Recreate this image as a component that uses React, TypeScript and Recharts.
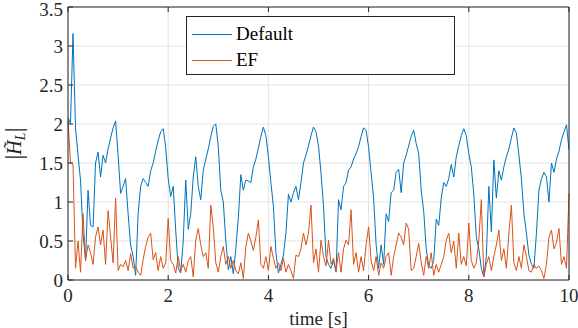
import React from 'react';
import { LineChart, Line, XAxis, YAxis, CartesianGrid, Legend } from 'recharts';

// sampling step of the time axis [s]
const TIME_STEP = 0.05;

// |H_L| for the default controller, one row per second
const defaultValues = [
  2.08, 2.01, 3.16, 1.95, 1.6, 1.28, 0.6, 0.25, 1.15, 0.7, 0.68, 1.5, 1.64, 1.32, 1.6, 1.5, 1.68, 1.82, 1.95, 2.04,
  1.6, 1.11, 1.2, 1.3, 0.85, 0.45, 0.3, 0.06, 0.85, 1.2, 1.3, 1.25, 1.2, 1.4, 1.5, 1.65, 1.79, 1.9, 1.94, 1.7,
  1.3, 1.07, 1.2, 0.64, 0.15, 0.09, 0.5, 1.28, 0.65, 0.85, 1.32, 1.58, 1.2, 1.03, 1.41, 1.55, 1.68, 1.84, 1.97, 2.0,
  1.71, 1.15, 1.0, 0.5, 0.13, 0.3, 0.08, 0.4, 0.8, 1.35, 1.15, 1.28, 1.27, 1.25, 1.45, 1.55, 1.69, 1.84, 1.96, 1.85,
  1.58, 1.25, 0.94, 0.35, 0.09, 0.2, 0.32, 0.6, 1.1, 1.0, 1.12, 1.2, 1.03, 1.25, 1.5, 1.6, 1.72, 1.85, 1.96, 1.9,
  1.72, 1.37, 0.95, 0.3, 0.2, 0.15, 0.25, 0.1, 1.03, 0.9, 1.2, 1.25, 1.41, 1.45, 1.55, 1.62, 1.71, 1.84, 1.95, 1.92,
  1.7, 1.37, 1.05, 0.45, 0.15, 0.45, 0.2, 0.85, 0.75, 1.12, 1.15, 1.38, 1.42, 1.12, 1.5, 1.6, 1.72, 1.84, 1.92, 1.75,
  1.62, 1.15, 0.88, 0.4, 0.18, 0.15, 0.25, 0.78, 0.7, 1.05, 1.25, 1.2, 1.3, 1.48, 1.32, 1.58, 1.72, 1.85, 1.94, 1.85,
  1.62, 1.45, 1.1, 0.55, 0.4, 0.15, 0.04, 0.3, 1.2, 0.62, 1.54, 1.05, 1.4, 1.28, 1.45, 1.58, 1.68, 1.82, 1.95, 1.88,
  1.6, 1.3, 0.85, 0.6, 0.32, 0.2, 0.15, 0.6, 1.15, 1.3, 1.38, 1.32, 1.0, 1.5, 1.38, 1.55, 1.65, 1.8, 1.9, 1.99,
  1.67,
];

// |H_L| with EF, same sampling
const efValues = [
  2.05, 1.5, 1.48, 0.15, 0.5, 0.1, 0.85, 0.25, 0.45, 0.35, 0.2, 0.55, 0.68, 0.45, 0.64, 0.2, 0.89, 0.55, 0.22, 1.05,
  0.12, 0.2, 0.17, 0.25, 0.12, 0.34, 0.15, 0.18, 0.1, 0.06, 0.26, 0.43, 0.55, 0.6, 0.26, 0.35, 0.12, 0.3, 0.15, 0.22,
  0.79, 0.25, 0.2, 0.09, 0.3, 0.12, 0.2, 0.1, 0.25, 0.3, 0.04, 0.51, 0.66, 0.45, 0.3, 0.35, 0.15, 0.96, 0.68, 0.22,
  0.1, 0.3, 0.43, 0.2, 0.3, 0.15, 0.25, 0.12, 0.08, 0.22, 0.02, 0.43, 0.6, 0.5, 0.38, 0.55, 0.77, 0.2, 0.15, 0.3,
  0.12, 0.43, 0.28, 0.15, 0.22, 0.12, 0.28, 0.1, 0.2, 0.12, 0.02, 0.32, 0.3, 0.4, 0.6, 0.45, 0.6, 0.96, 0.22, 0.4,
  0.1, 0.51, 0.3, 0.18, 0.51, 0.2, 0.28, 0.12, 0.35, 0.1, 0.4, 0.51, 0.45, 0.9, 0.2, 0.35, 0.1, 0.3, 0.12, 0.45,
  0.68, 0.25, 0.12, 0.3, 0.06, 0.22, 0.15, 0.3, 0.35, 0.06, 0.3, 0.45, 0.6, 0.55, 0.45, 0.73, 0.65, 0.12, 0.15, 0.3,
  0.47, 0.22, 0.06, 0.3, 0.15, 0.35, 0.06, 0.2, 0.1, 0.2, 0.3, 0.51, 0.6, 0.35, 0.5, 0.15, 0.6, 0.2, 0.3, 0.18,
  0.73, 0.25, 0.15, 0.22, 0.51, 1.03, 0.04, 0.2, 0.3, 0.12, 0.3, 0.45, 0.64, 0.25, 0.4, 0.15, 0.6, 0.96, 0.22, 0.12,
  0.3, 0.15, 0.45, 0.3, 0.12, 0.1, 0.2, 0.15, 0.18, 0.12, 0.02, 0.2, 0.55, 0.64, 0.4, 0.48, 0.66, 0.2, 0.3, 0.15,
  1.11,
];

const xTicks = [0, 2, 4, 6, 8, 10];
const yTicks = [0, 0.5, 1, 1.5, 2, 2.5, 3, 3.5];

const FONT = '"Liberation Serif", "DejaVu Serif", serif';
const AXIS_COLOR = '#262626';

const data = defaultValues.map((v, i) => ({
  t: Math.round(i * TIME_STEP * 100) / 100,
  Default: v,
  EF: efValues[i],
}));

const renderYLabel = () => (
  <text
    transform="translate(21,143.5) rotate(-90)"
    textAnchor="middle"
    fontFamily={FONT}
    fontSize={20}
    fill={AXIS_COLOR}
  >
    <tspan fontSize={26} dy={1}>|</tspan>
    <tspan fontStyle="italic" dy={-1}>H̃</tspan>
    <tspan fontStyle="italic" fontSize={14} dy={4}>L</tspan>
    <tspan fontSize={26} dy={-3}>|</tspan>
  </text>
);

// serif tick labels (tick objects don't reliably pass the font through)
const XTick = (props: any) => (
  <text x={props.x} y={props.y} dy="0.71em" textAnchor="middle" fontFamily={FONT} fontSize={19} fill={AXIS_COLOR}>
    {props.payload.value}
  </text>
);

const YTick = (props: any) => (
  <text x={props.x} y={props.y} dy="0.355em" textAnchor="end" fontFamily={FONT} fontSize={19} fill={AXIS_COLOR}>
    {props.payload.value}
  </text>
);

const renderLegend = (props: any) => {
  const { payload = [] } = props;
  return (
    <div style={styles.legendBox}>
      {payload.map((item: any) => (
        <div key={item.value} style={styles.legendRow}>
          <span style={{ ...styles.legendLine, backgroundColor: item.color }} />
          <span>{item.value}</span>
        </div>
      ))}
    </div>
  );
};

const noTick = () => <g />;

export default function App() {
  return (
    <div style={styles.page}>
      <LineChart width={578} height={328} data={data} margin={{ top: 0, right: 0, bottom: 0, left: 0 }}>
        <CartesianGrid stroke="#e3e3e3" />
        <XAxis
          dataKey="t"
          type="number"
          domain={[0, 10]}
          ticks={xTicks}
          height={48}
          tickSize={-5}
          tickMargin={14}
          stroke={AXIS_COLOR}
          tick={XTick}
          label={{ value: 'time [s]', position: 'insideBottom', offset: 3, fontFamily: FONT, fontSize: 19, fill: AXIS_COLOR }}
        />
        <XAxis
          xAxisId="top"
          orientation="top"
          dataKey="t"
          type="number"
          domain={[0, 10]}
          ticks={xTicks}
          height={7}
          tickSize={-5}
          stroke={AXIS_COLOR}
          tick={noTick}
        />
        <YAxis
          type="number"
          domain={[0, 3.5]}
          ticks={yTicks}
          width={68}
          tickSize={-5}
          tickMargin={10}
          stroke={AXIS_COLOR}
          tick={YTick}
          label={{ content: renderYLabel }}
        />
        <YAxis
          yAxisId="right"
          orientation="right"
          type="number"
          domain={[0, 3.5]}
          ticks={yTicks}
          width={9}
          tickSize={-5}
          stroke={AXIS_COLOR}
          tick={noTick}
        />
        <Legend
          content={renderLegend}
          layout="vertical"
          align="center"
          verticalAlign="middle"
          wrapperStyle={{ left: 186, top: 16, width: 269, height: 59 }}
        />
        <Line
          type="linear"
          dataKey="Default"
          name="Default"
          stroke="#0072BD"
          strokeWidth={1}
          dot={false}
          isAnimationActive={false}
        />
        <Line
          type="linear"
          dataKey="EF"
          name="EF"
          stroke="#D95319"
          strokeWidth={1}
          dot={false}
          isAnimationActive={false}
        />
      </LineChart>
    </div>
  );
}

const styles: Record<string, React.CSSProperties> = {
  page: {
    position: 'absolute',
    left: 0,
    top: 0,
    width: 578,
    height: 328,
    background: '#fff',
    fontFamily: FONT,
  },
  legendBox: {
    boxSizing: 'border-box',
    width: 269,
    height: 59,
    border: '1px solid #262626',
    backgroundColor: '#fff',
    fontFamily: FONT,
    fontSize: 19,
    color: '#000',
    padding: '4px 0 0 5px',
  },
  legendRow: {
    display: 'flex',
    alignItems: 'center',
    height: 26,
  },
  legendLine: {
    display: 'inline-block',
    width: 40,
    height: 1,
    marginRight: 4,
  },
};
